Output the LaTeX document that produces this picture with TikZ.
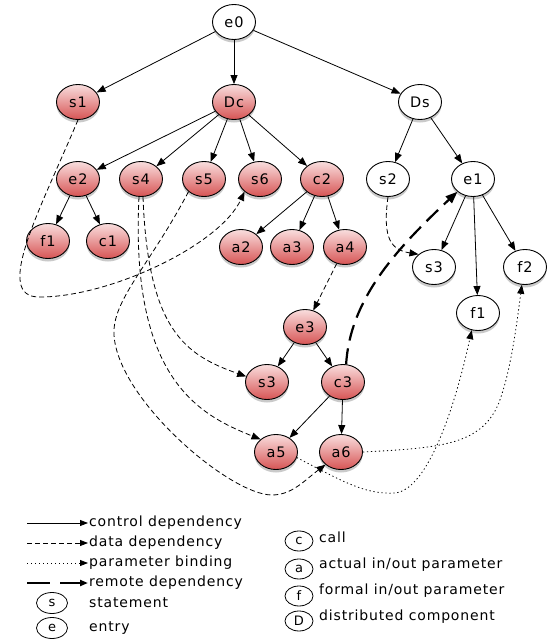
\documentclass[tikz,border=0pt]{standalone}
\usepackage{fontspec}
\newfontfamily\pdgfont[LetterSpace=6]{DejaVu Sans}
\usetikzlibrary{shapes.geometric, arrows.meta, shadows}
\definecolor{pdgtop}{RGB}{249,222,222}
\definecolor{pdgbot}{RGB}{214,84,84}

\begin{document}
\begin{tikzpicture}[
    x=1pt, y=1pt,
    >={Triangle[length=9pt,width=7pt]},
    pdgnode/.style={ellipse, draw=black, line width=0.9pt, minimum width=43pt, minimum height=35pt, inner sep=0pt, drop shadow={shadow xshift=0pt, shadow yshift=-3pt, opacity=0.35, fill=black!60}, font=\pdgfont\fontsize{14.5}{17}\selectfont},
    local/.style={pdgnode, top color=pdgtop, bottom color=pdgbot},
    remote/.style={pdgnode, fill=white},
    ctrl/.style={->, line width=0.8pt},
    data/.style={->, line width=0.8pt, dash pattern=on 5pt off 3pt},
    param/.style={->, line width=0.8pt, dash pattern=on 1.3pt off 2.7pt},
    rdep/.style={->, line width=2.2pt, dash pattern=on 16pt off 8pt, >={Triangle[length=12pt,width=9pt]}},
    legarrow/.style={>={Triangle[length=8pt,width=6pt]}},
    legnode/.style={ellipse, draw=black, line width=0.8pt, minimum width=31pt, minimum height=21pt, inner sep=0pt, fill=white, font=\pdgfont\fontsize{13}{15}\selectfont},
    legsmall/.style={legnode, minimum width=28pt, minimum height=20pt},
    legtext/.style={anchor=west, inner sep=1pt, font=\pdgfont\fontsize{14}{16}\selectfont}
]
    \useasboundingbox (0,0) rectangle (552,-643);

    \node[remote] at (234,-22) (e0) {e0};

    \node[local]  at (78,-102)  (s1) {s1};
    \node[local]  at (234,-102) (dc) {Dc};
    \node[remote] at (420,-102) (ds) {Ds};

    \node[local]  at (78,-179)  (e2) {e2};
    \node[local]  at (141,-179) (s4) {s4};
    \node[local]  at (204,-179) (s5) {s5};
    \node[local]  at (260,-179) (s6) {s6};
    \node[local]  at (322,-179) (c2) {c2};
    \node[remote] at (388,-179) (s2) {s2};
    \node[remote] at (473,-179) (e1) {e1};

    \node[local]  at (48,-241)  (f1) {f1};
    \node[local]  at (108,-241) (c1) {c1};
    \node[local]  at (241,-247) (a2) {a2};
    \node[local]  at (292,-247) (a3) {a3};
    \node[local]  at (345,-247) (a4) {a4};

    \node[remote] at (434,-267) (s3r) {s3};
    \node[remote] at (525,-267) (f2r) {f2};
    \node[remote] at (478,-313) (f1r) {f1};

    \node[local]  at (305,-327) (e3) {e3};
    \node[local]  at (267,-382) (s3) {s3};
    \node[local]  at (343,-382) (c3) {c3};
    \node[local]  at (276,-452) (a5) {a5};
    \node[local]  at (341,-452) (a6) {a6};

    \draw[ctrl] (e0) -- (s1);
    \draw[ctrl] (e0) -- (dc);
    \draw[ctrl] (e0) -- (ds);

    \draw[ctrl] (dc) -- (e2);
    \draw[ctrl] (dc) -- (s4);
    \draw[ctrl] (dc) -- (s5);
    \draw[ctrl] (dc) -- (s6);
    \draw[ctrl] (dc) -- (c2);

    \draw[ctrl] (ds) -- (s2);
    \draw[ctrl] (ds) -- (e1);

    \draw[ctrl] (e2) -- (f1);
    \draw[ctrl] (e2) -- (c1);
    \draw[ctrl] (c2) -- (a2);
    \draw[ctrl] (c2) -- (a3);
    \draw[ctrl] (c2) -- (a4);

    \draw[ctrl] (e1) -- (s3r);
    \draw[ctrl] (e1) -- (f1r);
    \draw[ctrl] (e1) -- (f2r);

    \draw[ctrl] (e3) -- (s3);
    \draw[ctrl] (e3) -- (c3);
    \draw[ctrl] (c3) -- (a5);
    \draw[ctrl] (c3) -- (a6);

    \draw[data] (s1.south) .. controls (40,-210) and (-8,-298) .. (40,-297) .. controls (110,-297) and (220,-245) .. (s6.south west);
    \draw[data] (s2.south) .. controls (382,-240) and (392,-250) .. (s3r.north west);
    \draw[data] (a4) -- (e3);
    \draw[data] ([xshift=2pt]s4.south) .. controls (148,-330) and (185,-355) .. (s3.165);
    \draw[data] ([xshift=-2pt]s4.south) .. controls (130,-380) and (200,-415) .. (a5.north west);
    \draw[data] (s5.south west) .. controls (150,-265) and (112,-300) .. (114,-335) .. controls (118,-400) and (230,-495) .. (272,-495) .. controls (292,-495) and (305,-480) .. (a6.south west);

    \draw[rdep] (c3.80) .. controls (350,-300) and (395,-250) .. (e1.south west);

    \draw[param] (a6.east) .. controls (440,-448) and (480,-445) .. (498,-405) .. controls (510,-375) and (516,-330) .. (f2r.-100);
    \draw[param] (a5.-15) .. controls (340,-480) and (365,-495) .. (395,-493) .. controls (425,-490) and (452,-420) .. (f1r.-110);

    \coordinate (ctrlstart) at (27,-523);
    \coordinate (datastart) at (27,-543);
    \coordinate (paramstart) at (27,-563);
    \coordinate (rdepstart) at (27,-583);
    \node[legtext] at (88,-523) (ctrltext) {control dependency};
    \node[legtext] at (88,-543) (datatext) {data dependency};
    \node[legtext] at (88,-563) (paramtext) {parameter binding};
    \node[legtext] at (88,-583) (rdeptext) {remote dependency};
    \draw[ctrl, legarrow] (ctrlstart) -- (ctrltext);
    \draw[data, legarrow] (datastart) -- (datatext);
    \draw[param, legarrow] (paramstart) -- (paramtext);
    \draw[rdep, dash pattern=on 23pt off 10pt, legarrow] (rdepstart) -- (rdeptext);

    \node[legnode] at (52,-603) (legs) {s};
    \node[legtext] at (88,-603) (legstext) {statement};
    \node[legnode] at (52,-628) (lege) {e};
    \node[legtext] at (88,-628) (legetext) {entry};

    \node[legsmall] at (299,-541) (legc) {c};
    \node[legtext]  at (318,-537) (legctext) {call};
    \node[legsmall] at (299,-569) (lega) {a};
    \node[legtext]  at (318,-565) (legatext) {actual in/out parameter};
    \node[legsmall] at (299,-596) (legf) {f};
    \node[legtext]  at (318,-591) (legftext) {formal in/out parameter};
    \node[legsmall] at (299,-621) (legd) {D};
    \node[legtext]  at (318,-617) (legdtext) {distributed component};
\end{tikzpicture}
\end{document}
